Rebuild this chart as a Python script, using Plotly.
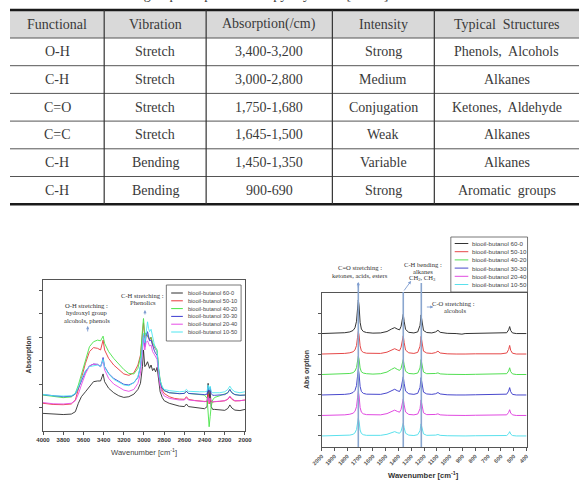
import plotly.graph_objects as go

W, H = 586, 491

def px(x):
    return x / W

def py(y):
    return 1 - y / H

# ---------------- table data ----------------
caption = "Table 2. FT-IR functional group compositions of pyrolysis oil [37-39]"
table_header = ["Functional", "Vibration", "Absorption(/cm)", "Intensity", "Typical  Structures"]
functional = ["O-H", "C-H", "C=O", "C=C", "C-H", "C-H"]
vibration = ["Stretch", "Stretch", "Stretch", "Stretch", "Bending", "Bending"]
absorption = ["3,400-3,200", "3,000-2,800", "1,750-1,680", "1,645-1,500", "1,450-1,350", "900-690"]
intensity = ["Strong", "Medium", "Conjugation", "Weak", "Variable", "Strong"]
structures = ["Phenols,  Alcohols", "Alkanes", "Ketones,  Aldehyde", "Alkanes", "Alkanes", "Aromatic  groups"]

# ---------------- spectra data ----------------
series_names = ["biooil-butanol 60-0", "biooil-butanol 50-10", "biooil-butanol 40-20",
                "biooil-butanol 30-30", "biooil-butanol 20-40", "biooil-butanol 10-50"]

# Left panel: 4000-2000 cm-1
wn_left = [4000, 3900, 3800, 3720, 3680, 3650, 3620, 3580, 3540, 3500, 3460, 3430, 3415, 3405,
           3390, 3350, 3300, 3250, 3200, 3150, 3100, 3060, 3035, 3015, 3005, 2992, 2980, 2965,
           2955, 2945, 2930, 2915, 2900, 2885, 2870, 2855, 2840, 2820, 2800, 2750, 2700, 2650,
           2600, 2580, 2560, 2500, 2450, 2400, 2375, 2365, 2355, 2345, 2335, 2320, 2300, 2250,
           2200, 2170, 2150, 2130, 2100, 2050, 2000]

abs_60_0 = [0.75, 0.71, 0.70, 0.72, 0.82, 1.18, 1.46, 1.67, 1.89, 2.10, 2.13, 2.13, 2.31, 2.43,
            2.10, 1.82, 1.63, 1.50, 1.43, 1.46, 1.57, 1.77, 2.03, 2.74, 3.45, 2.74, 2.81, 2.95,
            2.81, 2.67, 2.81, 2.57, 2.67, 2.52, 2.71, 2.17, 1.67, 1.43, 1.29, 1.18, 1.11, 1.06,
            1.04, 1.15, 1.04, 1.00, 0.98, 0.95, 1.04, 2.03, 1.39, 1.74, 1.04, 0.92, 0.92, 0.89,
            0.88, 0.96, 1.11, 0.98, 0.89, 0.87, 0.92]
abs_50_10 = [1.18, 1.13, 1.12, 1.15, 1.32, 1.74, 2.24, 2.88, 3.38, 3.55, 3.52, 3.45, 3.70, 3.87,
             3.45, 3.09, 2.81, 2.60, 2.43, 2.37, 2.48, 2.81, 3.23, 4.16, 4.61, 3.94, 4.16, 4.04,
             3.94, 3.87, 3.99, 3.66, 3.59, 3.45, 3.38, 2.60, 2.10, 1.74, 1.60, 1.46, 1.39, 1.36,
             1.35, 1.46, 1.35, 1.30, 1.28, 1.25, 1.25, 1.57, 1.15, 1.39, 1.25, 1.23, 1.25, 1.26,
             1.29, 1.35, 1.46, 1.35, 1.28, 1.29, 1.32]
abs_40_20 = [1.53, 1.46, 1.42, 1.45, 1.60, 1.96, 2.38, 3.02, 3.59, 3.80, 3.87, 3.84, 3.99, 4.04,
             3.73, 3.38, 3.09, 2.85, 2.62, 2.45, 2.43, 2.67, 3.16, 4.29, 4.79, 4.09, 4.18, 4.04,
             3.99, 3.94, 3.99, 3.76, 3.66, 3.52, 3.45, 2.67, 2.17, 1.86, 1.72, 1.63, 1.60, 1.59,
             1.60, 1.69, 1.60, 1.57, 1.56, 1.53, 1.39, 0.75, 0.18, 0.61, 1.04, 1.32, 1.43, 1.50,
             1.57, 1.63, 1.77, 1.63, 1.55, 1.52, 1.53]
abs_30_30 = [1.55, 1.49, 1.46, 1.48, 1.57, 1.82, 2.14, 2.52, 2.77, 2.85, 2.84, 2.74, 2.95, 3.13,
             2.74, 2.45, 2.24, 2.10, 1.99, 1.96, 2.06, 2.28, 2.74, 3.59, 4.09, 3.59, 4.01, 4.23,
             3.99, 3.84, 3.87, 3.59, 3.45, 3.30, 3.23, 2.52, 2.06, 1.82, 1.72, 1.63, 1.60, 1.59,
             1.60, 1.70, 1.60, 1.57, 1.56, 1.55, 1.57, 1.89, 1.67, 1.86, 1.60, 1.52, 1.52, 1.52,
             1.55, 1.63, 1.77, 1.63, 1.55, 1.52, 1.53]
abs_20_40 = [1.21, 1.16, 1.15, 1.18, 1.29, 1.57, 1.96, 2.43, 2.77, 2.85, 2.82, 2.74, 2.88, 2.99,
             2.60, 2.24, 2.00, 1.86, 1.74, 1.69, 1.77, 2.03, 2.45, 3.38, 3.99, 3.45, 3.76, 3.84,
             3.73, 3.62, 3.66, 3.38, 3.28, 3.13, 3.05, 2.38, 1.91, 1.63, 1.49, 1.39, 1.35, 1.32,
             1.32, 1.42, 1.32, 1.29, 1.26, 1.25, 1.29, 1.46, 1.21, 1.39, 1.29, 1.25, 1.25, 1.26,
             1.29, 1.36, 1.49, 1.38, 1.29, 1.29, 1.32]
abs_10_50 = [1.56, 1.50, 1.49, 1.50, 1.60, 1.86, 2.20, 2.57, 2.74, 2.78, 2.81, 2.74, 2.91, 3.05,
             2.71, 2.43, 2.20, 2.07, 1.96, 1.93, 2.06, 2.31, 2.77, 3.62, 4.16, 3.76, 4.29, 4.65,
             4.37, 4.23, 4.33, 3.94, 3.73, 3.52, 3.38, 2.60, 2.14, 1.89, 1.77, 1.72, 1.69, 1.67,
             1.69, 1.77, 1.69, 1.67, 1.67, 1.67, 1.69, 1.96, 1.74, 1.91, 1.69, 1.63, 1.63, 1.63,
             1.67, 1.77, 1.91, 1.77, 1.67, 1.63, 1.67]
left_series = [abs_60_0, abs_50_10, abs_40_20, abs_30_30, abs_20_40, abs_10_50]

# Right panel: 2000-400 cm-1 (values relative to each trace's own baseline)
wn_right = [2000, 1900, 1820, 1780, 1755, 1740, 1728, 1720, 1714, 1708, 1700, 1690, 1675, 1650,
            1600, 1540, 1490, 1455, 1430, 1410, 1392, 1380, 1370, 1363, 1356, 1345, 1320, 1280,
            1250, 1232, 1224, 1217, 1205, 1180, 1140, 1110, 1092, 1075, 1020, 950, 905, 880,
            800, 700, 600, 555, 540, 532, 524, 510, 480, 400]

r_60_0 = [0.00, 0.01, 0.04, 0.08, 0.15, 0.28, 0.60, 1.20, 1.64, 1.35, 0.55, 0.22, 0.10, 0.05,
          0.02, 0.03, 0.10, 0.22, 0.29, 0.22, 0.18, 0.35, 0.75, 0.94, 0.60, 0.20, 0.06, 0.03,
          0.08, 0.40, 0.91, 0.55, 0.15, 0.05, 0.03, 0.08, 0.16, 0.06, 0.01, 0.00, -0.03, 0.00,
          0.01, 0.01, 0.01, 0.04, 0.18, 0.34, 0.15, 0.03, 0.00, 0.00]
r_50_10 = [0.00, 0.01, 0.03, 0.06, 0.11, 0.20, 0.42, 0.82, 1.10, 0.92, 0.40, 0.16, 0.08, 0.04,
           0.02, 0.03, 0.09, 0.19, 0.26, 0.20, 0.16, 0.33, 0.70, 0.89, 0.57, 0.19, 0.06, 0.03,
           0.08, 0.38, 0.86, 0.52, 0.14, 0.05, 0.03, 0.07, 0.14, 0.05, 0.01, 0.00, -0.02, 0.00,
           0.01, 0.01, 0.01, 0.05, 0.22, 0.42, 0.18, 0.04, 0.00, 0.00]
r_40_20 = [0.00, 0.01, 0.03, 0.05, 0.09, 0.17, 0.34, 0.66, 0.89, 0.75, 0.32, 0.13, 0.07, 0.04,
           0.02, 0.04, 0.12, 0.25, 0.33, 0.25, 0.20, 0.30, 0.58, 0.73, 0.47, 0.16, 0.05, 0.03,
           0.07, 0.32, 0.73, 0.44, 0.12, 0.04, 0.03, 0.05, 0.08, 0.03, 0.01, 0.00, -0.02, 0.00,
           0.01, 0.01, 0.01, 0.04, 0.17, 0.33, 0.14, 0.03, 0.00, 0.00]
r_30_30 = [0.00, 0.01, 0.03, 0.06, 0.12, 0.22, 0.46, 0.92, 1.25, 1.03, 0.42, 0.17, 0.08, 0.04,
           0.02, 0.03, 0.10, 0.21, 0.28, 0.21, 0.17, 0.33, 0.70, 0.89, 0.57, 0.19, 0.06, 0.03,
           0.08, 0.37, 0.85, 0.51, 0.14, 0.05, 0.03, 0.06, 0.12, 0.05, 0.01, 0.00, -0.02, 0.00,
           0.01, 0.01, 0.01, 0.04, 0.19, 0.36, 0.16, 0.03, 0.00, 0.00]
r_20_40 = [0.00, 0.01, 0.03, 0.06, 0.11, 0.20, 0.43, 0.86, 1.17, 0.96, 0.39, 0.16, 0.08, 0.04,
           0.02, 0.03, 0.09, 0.19, 0.26, 0.20, 0.16, 0.30, 0.64, 0.81, 0.52, 0.17, 0.05, 0.03,
           0.07, 0.33, 0.76, 0.46, 0.13, 0.04, 0.03, 0.05, 0.08, 0.03, 0.01, 0.00, -0.02, 0.00,
           0.01, 0.01, 0.01, 0.03, 0.15, 0.28, 0.12, 0.03, 0.00, 0.00]
r_10_50 = [0.00, 0.01, 0.02, 0.04, 0.08, 0.15, 0.32, 0.63, 0.86, 0.71, 0.29, 0.12, 0.06, 0.03,
           0.02, 0.03, 0.08, 0.16, 0.21, 0.16, 0.13, 0.23, 0.49, 0.62, 0.40, 0.13, 0.04, 0.02,
           0.06, 0.26, 0.59, 0.36, 0.10, 0.03, 0.02, 0.04, 0.07, 0.03, 0.01, 0.00, -0.02, 0.00,
           0.01, 0.01, 0.01, 0.02, 0.11, 0.21, 0.09, 0.02, 0.00, 0.00]
right_series = [r_60_0, r_50_10, r_40_20, r_30_30, r_20_40, r_10_50]
right_offsets = [5, 4, 3, 2, 1, 0]
band_lines = [1714, 1363, 1222]

left_xticks = [4000, 3800, 3600, 3400, 3200, 3000, 2800, 2600, 2400, 2200, 2000]
right_xticks = [2000, 1900, 1800, 1700, 1600, 1500, 1400, 1300, 1200, 1100, 1000,
                900, 800, 700, 600, 500, 400]

left_colors = ["#2e2e2e", "#e8383c", "#48e448", "#3b3bd0", "#e64ce6", "#4ee6f0"]
right_colors = ["#333333", "#e54848", "#52de52", "#4848cc", "#e04ae0", "#5ae0ec"]

fig = go.Figure()

for name, vals, c in zip(series_names, left_series, left_colors):
    fig.add_trace(go.Scatter(x=wn_left, y=vals, mode="lines", name=name,
                             line=dict(color=c, width=0.9), xaxis="x", yaxis="y",
                             showlegend=False, hoverinfo="skip"))
for name, vals, off, c in zip(series_names, right_series, right_offsets, right_colors):
    fig.add_trace(go.Scatter(x=wn_right, y=[v + off for v in vals], mode="lines", name=name,
                             line=dict(color=c, width=1.0), xaxis="x2", yaxis="y2",
                             showlegend=False, hoverinfo="skip"))

shapes = []
annotations = []

# ---------------- table ----------------
col_edges = [0, 97, 202, 332, 437, 586]
t_top, h_bot, row_h = 10, 38, 27.7
n_rows = len(functional)
t_bot = h_bot + n_rows * row_h
tfont = dict(family="Liberation Serif, Times New Roman, serif", size=14, color="#3a3a3a")

shapes.append(dict(type="rect", xref="paper", yref="paper", x0=0, x1=1,
                   y0=py(h_bot), y1=py(t_top), fillcolor="#d9d9d9", line=dict(width=0), layer="below"))
for i in range(n_rows):
    yy = h_bot + i * row_h
    shapes.append(dict(type="line", xref="paper", yref="paper", x0=0, x1=1, y0=py(yy), y1=py(yy),
                       line=dict(color="#555555", width=1)))
shapes.append(dict(type="line", xref="paper", yref="paper", x0=0, x1=1, y0=py(t_top), y1=py(t_top),
                   line=dict(color="#1a1a1a", width=2.5)))
shapes.append(dict(type="line", xref="paper", yref="paper", x0=0, x1=1, y0=py(t_bot), y1=py(t_bot),
                   line=dict(color="#1a1a1a", width=2.5)))
for xe in col_edges[1:-1]:
    shapes.append(dict(type="line", xref="paper", yref="paper", x0=px(xe), x1=px(xe),
                       y0=py(t_bot), y1=py(t_top), line=dict(color="#333333", width=1.2)))

columns = [functional, vibration, absorption, intensity, structures]
for j, head in enumerate(table_header):
    cx = (col_edges[j] + col_edges[j + 1]) / 2
    annotations.append(dict(x=px(cx), y=py((t_top + h_bot) / 2), xref="paper", yref="paper",
                            text=head, showarrow=False, font=tfont, xanchor="center", yanchor="middle"))
    for i, val in enumerate(columns[j]):
        cy = h_bot + row_h * (i + 0.5)
        annotations.append(dict(x=px(cx), y=py(cy), xref="paper", yref="paper", text=val,
                                showarrow=False, font=tfont, xanchor="center", yanchor="middle"))

annotations.append(dict(x=px(-14), y=py(4), xref="paper", yref="paper", text=caption,
                        showarrow=False, xanchor="left", yanchor="bottom",
                        font=dict(family="Liberation Serif, serif", size=14, color="#3a3a3a")))

# ---------------- legends ----------------
def add_legend(box, x_line0, x_line1, x_text, y0, dy, colors, fsize):
    shapes.append(dict(type="rect", xref="paper", yref="paper", x0=px(box[0]), x1=px(box[2]),
                       y0=py(box[3]), y1=py(box[1]), line=dict(color="#555555", width=0.8),
                       fillcolor="white"))
    for k, (name, c) in enumerate(zip(series_names, colors)):
        yy = y0 + k * dy
        shapes.append(dict(type="line", xref="paper", yref="paper", x0=px(x_line0), x1=px(x_line1),
                           y0=py(yy), y1=py(yy), line=dict(color=c, width=1)))
        annotations.append(dict(x=px(x_text), y=py(yy), xref="paper", yref="paper", text=name,
                                showarrow=False, xanchor="left", yanchor="middle",
                                font=dict(family="Liberation Sans, Arial, sans-serif",
                                          size=fsize, color="#444444")))

add_legend((161, 285, 238, 341), 166, 178, 181, 293, 7.8, left_colors, 5.6)
add_legend((454, 237, 533, 292), 458, 472, 474, 243.5, 8.2, right_colors, 6.2)

# ---------------- band lines in right chart ----------------
band_tops = [283, 292, 283]
for b, top in zip(band_lines, band_tops):
    shapes.append(dict(type="line", xref="x2", yref="paper", x0=b, x1=b, y0=py(447), y1=py(top),
                       line=dict(color="#8aa6cf", width=1.6)))

# ---------------- text annotations ----------------
afont = dict(family="Liberation Serif, Times New Roman, serif", size=6.6, color="#333333")

def txt(x, y, s, font=afont, **kw):
    d = dict(x=px(x), y=py(y), xref="paper", yref="paper", text=s, showarrow=False,
             xanchor="center", yanchor="middle", font=font)
    d.update(kw)
    annotations.append(d)

def arrow(x_tip, y_tip, x_tail, y_tail):
    annotations.append(dict(x=px(x_tip), y=py(y_tip), xref="paper", yref="paper", text="",
                            showarrow=True, ax=x_tail - x_tip, ay=y_tail - y_tip,
                            arrowhead=2, arrowsize=0.7, arrowwidth=0.9, arrowcolor="#7f9dd0"))

txt(79, 305, "O-H stretching :")
txt(79, 312.5, "hydroxyl group")
txt(79, 320, "alcohols, phenols")
arrow(80, 326, 80, 333)
txt(136, 295, "C-H stretching :")
txt(137, 302.5, "Phenolics")
arrow(139, 310, 139, 316)

txt(360, 267, "C=O stretching :")
txt(360, 275, "ketones, acids, esters")
arrow(358.7, 282, 358.7, 289)
txt(425, 264, "C-H bending :")
txt(425, 271, "alkanes")
txt(425, 278, "CH<sub>2</sub>, CH<sub>3</sub>")
arrow(413, 281, 405, 292)
txt(457, 303, "C-O stretching :")
txt(458, 310, "alcohols")
arrow(436, 307, 428, 307)

# axis titles
txt(138, 452, "Wavenumber [cm<sup>-1</sup>]",
    font=dict(family="Liberation Sans, Arial, sans-serif", size=7.6, color="#444444"))
txt(20, 355, "Absorption", textangle=-90,
    font=dict(family="Liberation Sans, Arial, sans-serif", size=7, color="#333333", weight="bold"))
txt(426, 475, "Wavenumber [cm<sup>-1</sup>]",
    font=dict(family="Liberation Sans, Arial, sans-serif", size=7.6, color="#333333", weight="bold"))
txt(306, 370, "Abs orption", textangle=-90,
    font=dict(family="Liberation Sans, Arial, sans-serif", size=7, color="#333333", weight="bold"))

axis_common = dict(showgrid=False, zeroline=False, showline=True, mirror=True,
                   linecolor="#555555", linewidth=1, ticks="outside", ticklen=3,
                   tickcolor="#555555", tickwidth=0.8)

fig.update_layout(
    width=W, height=H, margin=dict(l=0, r=0, t=0, b=0),
    paper_bgcolor="white", plot_bgcolor="white", showlegend=False,
    xaxis=dict(domain=[px(34), px(242)], range=[4000, 2000], anchor="y",
               tickvals=left_xticks, ticktext=[str(v) for v in left_xticks],
               tickfont=dict(family="Liberation Sans, Arial, sans-serif", size=6,
                             color="#333333", weight="bold"), **axis_common),
    yaxis=dict(domain=[py(431), py(280)], range=[0, 6.43], anchor="x",
               tickvals=[1, 2, 3, 4, 5, 6], showticklabels=False, **axis_common),
    xaxis2=dict(domain=[px(321), px(532)], range=[2000, 400], anchor="y2",
                tickvals=right_xticks, ticktext=[str(v) for v in right_xticks], tickangle=-45,
                tickfont=dict(family="Liberation Sans, Arial, sans-serif", size=5.6,
                              color="#555555", weight="bold"), **axis_common),
    yaxis2=dict(domain=[py(447), py(293)], range=[-0.54, 6.98], anchor="x2",
                tickvals=[0, 1, 2, 3, 4, 5, 6], showticklabels=False, **axis_common),
    shapes=shapes, annotations=annotations,
)

fig.write_html("out.html")
